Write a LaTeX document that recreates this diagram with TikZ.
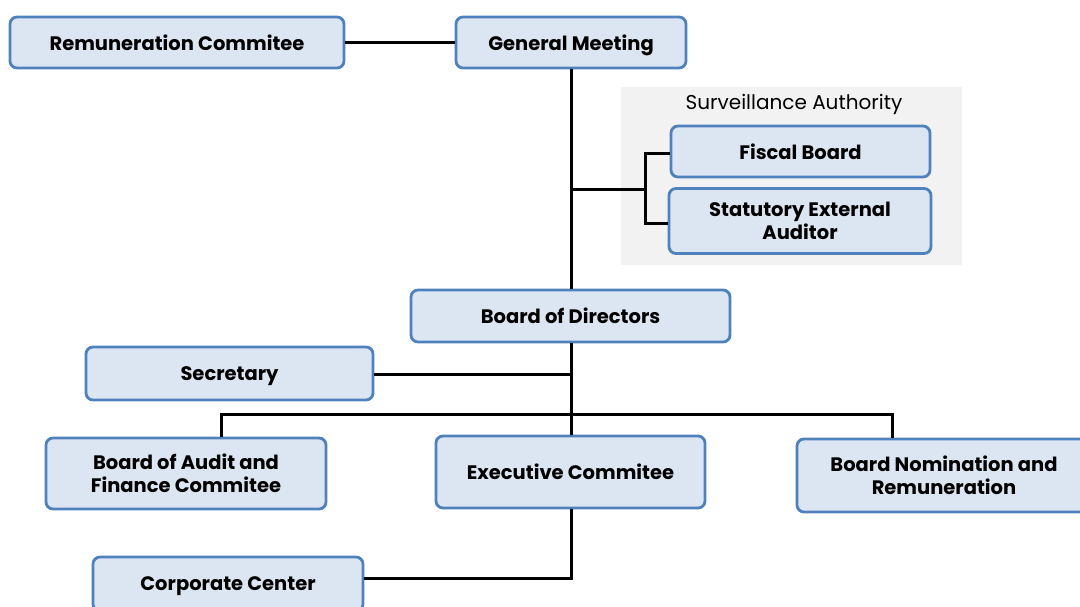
\documentclass[tikz,border=0pt]{standalone}
\usepackage{fontspec}
\setmainfont{Poppins}
\definecolor{boxfill}{HTML}{DCE6F2}
\definecolor{boxline}{HTML}{4F81BD}
\definecolor{panel}{HTML}{F2F2F2}
\begin{document}
\begin{tikzpicture}[x=1pt,y=-1pt,
  orgbox/.style={draw=boxline,line width=2.8pt,fill=boxfill,rounded corners=7pt,
    font=\fontsize{19.5}{23}\selectfont\bfseries,align=center,inner sep=0pt},
  oneline/.style={text depth=0pt},
  link/.style={line width=3pt,black}]
\useasboundingbox (0,0) rectangle (1080,606);
\fill[panel] (621,87) rectangle (962,265);
\node[font=\fontsize{20}{22}\selectfont,text depth=0pt] (sa) at (794,102) {Surveillance Authority};
\node[orgbox,oneline,minimum width=334pt,minimum height=51pt] (rem) at (177,42.5) {Remuneration Commitee};
\node[orgbox,oneline,minimum width=230pt,minimum height=51pt] (gm) at (571,42.5) {General Meeting};
\node[orgbox,oneline,minimum width=259pt,minimum height=51pt] (fb) at (800.5,151.5) {Fiscal Board};
\node[orgbox,minimum width=262pt,minimum height=65pt] (sea) at (800,221) {Statutory External\\Auditor};
\node[orgbox,oneline,minimum width=319pt,minimum height=52pt] (bod) at (570.5,316) {Board of Directors};
\node[orgbox,oneline,minimum width=287pt,minimum height=53pt] (sec) at (229.5,373.5) {Secretary};
\node[orgbox,minimum width=280pt,minimum height=71pt] (baf) at (186,473.5) {Board of Audit and\\Finance Commitee};
\node[orgbox,oneline,minimum width=269pt,minimum height=72pt] (exe) at (570.5,472) {Executive Commitee};
\node[orgbox,minimum width=294pt,minimum height=73pt] (bnr) at (944,475.5) {Board Nomination and\\Remuneration};
\node[orgbox,oneline,minimum width=270pt,minimum height=54pt] (cc) at (228,584) {Corporate Center};
\coordinate (j1) at (571,189);
\coordinate (jb) at (645,189);
\coordinate (jcc) at (571,578);
\draw[link] (rem.east) -- (gm.west);
\draw[link] (gm.south) -- (bod.north -| gm.south);
\draw[link] (j1) -- (jb);
\draw[link] (fb.west |- 0,153) -- (645,153) -- (645,223) -- (sea.west |- 0,223);
\draw[link] (sec.east |- 0,374) -- (571,374);
\draw[link] (bod.south -| 571,0) -- (exe.north -| 571,0);
\draw[link] (baf.north -| 221,0) -- (221,414) -- (892,414) -- (bnr.north -| 892,0);
\draw[link] (exe.south -| 571,0) -- (jcc) -- (cc.east |- jcc);
\end{tikzpicture}
\end{document}
